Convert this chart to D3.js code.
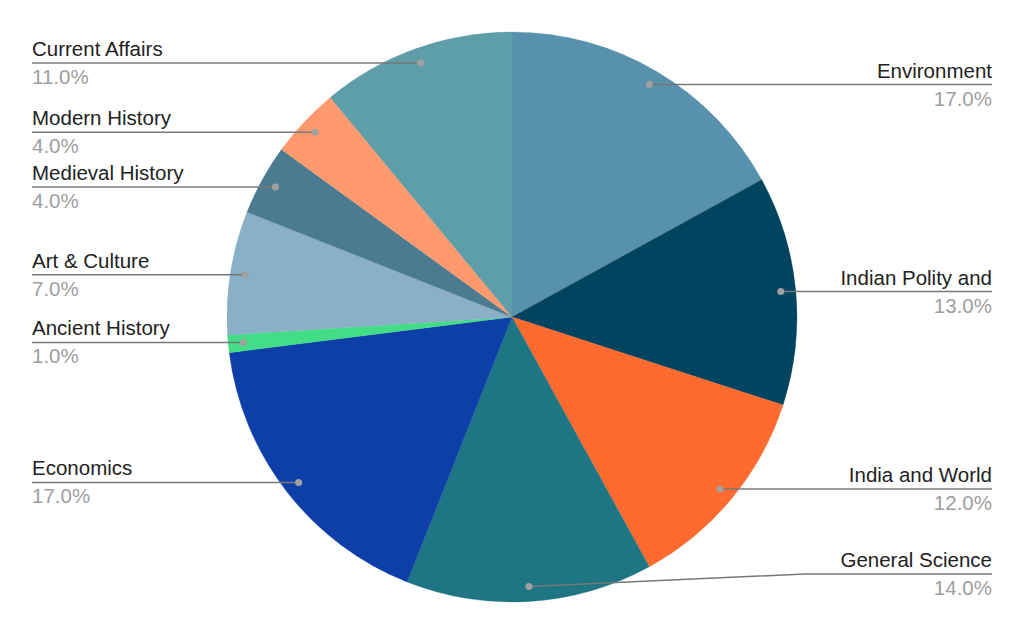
<!DOCTYPE html>
<html><head><meta charset="utf-8">
<script src="https://cdn.jsdelivr.net/npm/d3@7"></script>
<style>body{margin:0;background:#fff}svg{display:block}</style>
</head><body>
<svg id="chart" width="1024" height="633"></svg>
<script>
const categories = ["Environment","Indian Polity and","India and World","General Science","Economics","Ancient History","Art & Culture","Medieval History","Modern History","Current Affairs"];
const values = [17,13,12,14,17,1,7,4,4,11];
const colors = ["#5891ae","#01445f","#ff6b2f","#1e7584","#0e3fa8","#43dc87","#89b0c6","#4a7b91","#ff9a6e","#5e9ea9"];

const W = 1024, H = 633;
const cx = 512, cy = 317, R = 285, rDot = 270;
const svg = d3.select("#chart");
const g = svg.append("g").attr("transform", `translate(${cx},${cy})`);

const pie = d3.pie().sort(null).value(d => d.v);
const data = categories.map((c,i)=>({c, v: values[i], col: colors[i]}));
const arcs = pie(data);
const arc = d3.arc().innerRadius(0).outerRadius(R);
const total = d3.sum(values);
const fmt = d3.format(".1%");

g.selectAll("path.slice").data(arcs).join("path")
  .attr("class","slice")
  .attr("d", arc)
  .attr("fill", d => d.data.col)
  .attr("stroke", d => d.data.col).attr("stroke-width", 0.3);

const labels = svg.append("g");
arcs.forEach(d => {
  const a = (d.startAngle + d.endAngle)/2;
  const dx = cx + rDot*Math.sin(a), dy = cy - rDot*Math.cos(a);
  const right = Math.sin(a) > 0;
  const ly = Math.min(dy, H - 59);
  const xEnd = right ? 992 : 32;
  let pts;
  if (Math.abs(ly - dy) > 0.5) {
    const bendX = right ? 805 : 219;
    pts = [[dx,dy],[bendX,ly],[xEnd,ly]];
  } else {
    pts = [[dx,dy],[xEnd,ly]];
  }
  labels.append("path")
    .attr("d", d3.line()(pts))
    .attr("fill","none").attr("stroke","#777").attr("stroke-width",1.5);
  labels.append("circle").attr("cx",dx).attr("cy",dy).attr("r",3.5).attr("fill","#a0a0a0");
  labels.append("text")
    .attr("x", xEnd).attr("y", ly - 7)
    .attr("text-anchor", right ? "end" : "start")
    .attr("font-family","'Liberation Sans', Arial, sans-serif").attr("font-size",20.5)
    .attr("fill","#222").text(d.data.c);
  labels.append("text")
    .attr("x", xEnd).attr("y", ly + 21)
    .attr("text-anchor", right ? "end" : "start")
    .attr("font-family","'Liberation Sans', Arial, sans-serif").attr("font-size",20.5)
    .attr("fill","#9e9e9e").text(fmt(d.data.v/total));
});
</script>
</body></html>
